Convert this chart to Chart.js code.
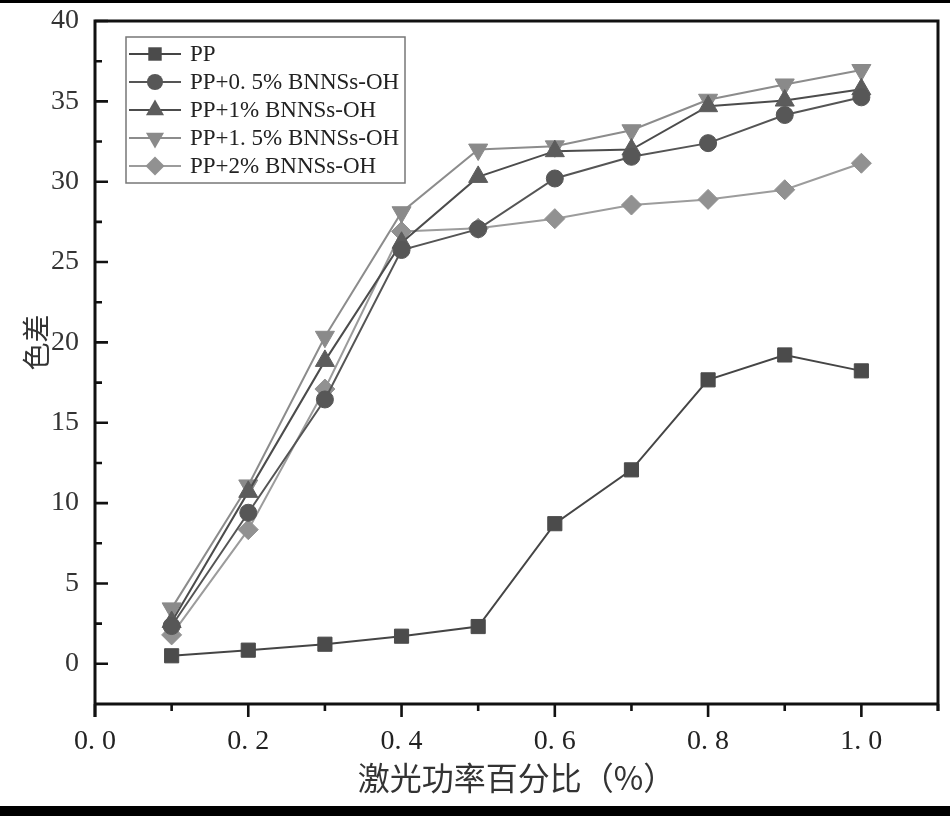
<!DOCTYPE html>
<html>
<head>
<meta charset="utf-8">
<script src="https://cdn.jsdelivr.net/npm/chart.js@4/dist/chart.umd.min.js"></script>
<style>
html,body{margin:0;padding:0;background:#fff;}
#wrap{width:950px;height:816px;position:relative;overflow:hidden;}
canvas{display:block;}
</style>
</head>
<body>
<div id="wrap"><canvas id="c" width="950" height="816"></canvas></div>
<script>
// ---- data ----
const xValues = [0.1, 0.2, 0.3, 0.4, 0.5, 0.6, 0.7, 0.8, 0.9, 1.0];
const seriesLabels = ['PP', 'PP+0. 5% BNNSs-OH', 'PP+1% BNNSs-OH', 'PP+1. 5% BNNSs-OH', 'PP+2% BNNSs-OH'];
const ppValues   = [0.50, 0.85, 1.22, 1.72, 2.32, 8.72, 12.07, 17.67, 19.22, 18.23];
const bn05Values = [2.35, 9.40, 16.45, 25.75, 27.05, 30.20, 31.55, 32.40, 34.15, 35.25];
const bn1Values  = [2.60, 10.70, 18.85, 26.20, 30.30, 31.90, 32.00, 34.70, 35.05, 35.75];
const bn15Values = [3.45, 11.10, 20.35, 28.10, 32.00, 32.20, 33.20, 35.10, 36.05, 36.95];
const bn2Values  = [1.80, 8.35, 17.10, 26.90, 27.10, 27.70, 28.55, 28.90, 29.50, 31.15];
const xTickValues = [0, 0.2, 0.4, 0.6, 0.8, 1.0];
const xMinorValues = [0.1, 0.3, 0.5, 0.7, 0.9, 1.1];
const yTickValues = [0, 5, 10, 15, 20, 25, 30, 35, 40];
const yMinorValues = [2.5, 7.5, 12.5, 17.5, 22.5, 27.5, 32.5, 37.5];
const xTitle = '激光功率百分比（%）';
const yTitle = '色差';

// ---- styles ----
const allValues = [ppValues, bn05Values, bn1Values, bn15Values, bn2Values];
const styles = [
  {fill:'#4b4b4b', line:'#454545', shape:'rect', r:10, rot:0},
  {fill:'#575757', line:'#555555', shape:'circle', r:8.5, rot:0},
  {fill:'#5c5c5c', line:'#4c4c4c', shape:'triangle', r:11, rot:0},
  {fill:'#8a8a8a', line:'#8c8c8c', shape:'triangle', r:11, rot:180},
  {fill:'#919191', line:'#9c9c9c', shape:'rectRot', r:10, rot:0}
];

const datasets = allValues.map((vals, i) => ({
  label: seriesLabels[i],
  data: xValues.map((x, j) => ({x: x, y: vals[j]})),
  borderColor: styles[i].line,
  backgroundColor: styles[i].fill,
  borderWidth: 2,
  pointStyle: styles[i].shape,
  pointRadius: styles[i].r,
  pointRotation: styles[i].rot,
  pointBackgroundColor: styles[i].fill,
  pointBorderColor: styles[i].fill,
  pointBorderWidth: 1,
  tension: 0,
  fill: false
}));

function drawMarker(ctx, shape, x, y, r, rot) {
  ctx.beginPath();
  if (shape === 'rect') {
    const s = Math.SQRT1_2 * r;
    ctx.rect(x - s, y - s, 2 * s, 2 * s);
  } else if (shape === 'circle') {
    ctx.arc(x, y, r, 0, Math.PI * 2);
  } else if (shape === 'triangle') {
    let rad = rot * Math.PI / 180;
    ctx.moveTo(x + Math.sin(rad) * r, y - Math.cos(rad) * r);
    rad += 2 * Math.PI / 3;
    ctx.lineTo(x + Math.sin(rad) * r, y - Math.cos(rad) * r);
    rad += 2 * Math.PI / 3;
    ctx.lineTo(x + Math.sin(rad) * r, y - Math.cos(rad) * r);
    ctx.closePath();
  } else if (shape === 'rectRot') {
    ctx.moveTo(x, y - r); ctx.lineTo(x + r, y); ctx.lineTo(x, y + r); ctx.lineTo(x - r, y); ctx.closePath();
  }
  ctx.fill();
}

const framePlugin = {
  id: 'frame',
  beforeDraw(chart) {
    const ctx = chart.ctx;
    ctx.save();
    ctx.fillStyle = '#fff';
    ctx.fillRect(0, 0, chart.width, chart.height);
    ctx.restore();
  },
  afterDraw(chart) {
    const ctx = chart.ctx;
    const xs = chart.scales.x, ys = chart.scales.y;
    const {left, right, top, bottom} = chart.chartArea;
    ctx.save();
    // black bars of the picture
    ctx.fillStyle = '#000';
    ctx.fillRect(0, 0, chart.width, 3);
    ctx.fillRect(0, 806, chart.width, 10);
    // frame
    ctx.strokeStyle = '#111';
    ctx.lineWidth = 3;
    ctx.lineCap = 'butt';
    ctx.beginPath();
    ctx.moveTo(left, bottom + 13);
    ctx.lineTo(left, top);
    ctx.lineTo(right, top);
    ctx.lineTo(right, bottom + 7);
    ctx.moveTo(left - 1.5, bottom);
    ctx.lineTo(right + 1.5, bottom);
    ctx.stroke();
    // x ticks (outward)
    ctx.lineWidth = 2.6;
    ctx.beginPath();
    xTickValues.forEach(v => { const p = xs.getPixelForValue(v); ctx.moveTo(p, bottom); ctx.lineTo(p, bottom + 13); });
    xMinorValues.forEach(v => { const p = xs.getPixelForValue(v); ctx.moveTo(p, bottom); ctx.lineTo(p, bottom + 7); });
    // y ticks (inward)
    yTickValues.forEach(v => { const p = ys.getPixelForValue(v); ctx.moveTo(left, p); ctx.lineTo(left + 13, p); });
    yMinorValues.forEach(v => { const p = ys.getPixelForValue(v); ctx.moveTo(left, p); ctx.lineTo(left + 7, p); });
    ctx.stroke();

    // y title
    ctx.fillStyle = '#333';
    ctx.font = '28px "Noto Sans CJK SC"';
    ctx.textAlign = 'center';
    ctx.textBaseline = 'middle';
    ctx.translate(36, ys.getPixelForValue(20));
    ctx.rotate(-Math.PI / 2);
    ctx.fillText(yTitle, 0, 0);
    ctx.setTransform(1, 0, 0, 1, 0, 0);

    // legend
    const lx = 126, ly = 37, lw = 279, lh = 146;
    ctx.fillStyle = '#fff';
    ctx.fillRect(lx, ly, lw, lh);
    ctx.strokeStyle = '#777';
    ctx.lineWidth = 1.5;
    ctx.strokeRect(lx, ly, lw, lh);
    ctx.font = '23px "Liberation Serif"';
    ctx.textAlign = 'left';
    ctx.textBaseline = 'middle';
    chart.data.datasets.forEach((ds, i) => {
      const yy = 54 + i * 28;
      ctx.strokeStyle = ds.borderColor;
      ctx.lineWidth = 2;
      ctx.beginPath(); ctx.moveTo(129, yy); ctx.lineTo(181, yy); ctx.stroke();
      ctx.fillStyle = ds.pointBackgroundColor;
      drawMarker(ctx, ds.pointStyle, 155, yy, ds.pointRadius * 0.95, ds.pointRotation);
      ctx.fillStyle = '#222';
      ctx.fillText(ds.label, 190, yy + 1);
    });
    ctx.restore();
  }
};

new Chart(document.getElementById('c'), {
  type: 'line',
  data: { datasets: datasets },
  plugins: [framePlugin],
  options: {
    responsive: false,
    animation: false,
    devicePixelRatio: 1,
    layout: { padding: { top: 21, right: 7, left: 0, bottom: 0 } },
    plugins: { legend: { display: false }, tooltip: { enabled: false } },
    scales: {
      x: {
        type: 'linear', min: 0, max: 1.1,
        afterBuildTicks: s => { s.ticks = xTickValues.map(v => ({value: v})); },
        afterFit: s => { s.height = 112; s.paddingLeft = 0; s.paddingRight = 0; },
        grid: { display: false, drawTicks: false },
        border: { display: false },
        ticks: {
          padding: 21,
          color: '#222',
          font: { family: 'Liberation Serif', size: 28 },
          callback: v => v.toFixed(1).replace('.', '. ')
        },
        title: {
          display: true, text: xTitle, color: '#333',
          font: { family: 'Noto Sans CJK SC', size: 32 },
          padding: { top: 0, bottom: 19 }
        }
      },
      y: {
        type: 'linear', min: -2.5, max: 40,
        afterBuildTicks: s => { s.ticks = yTickValues.map(v => ({value: v})); },
        afterFit: s => { s.width = 95; s.paddingTop = 0; s.paddingBottom = 0; },
        grid: { display: false, drawTicks: false },
        border: { display: false },
        ticks: {
          padding: 16,
          color: '#333',
          font: { family: 'Liberation Serif', size: 28 }
        }
      }
    }
  }
});
</script>
</body>
</html>
